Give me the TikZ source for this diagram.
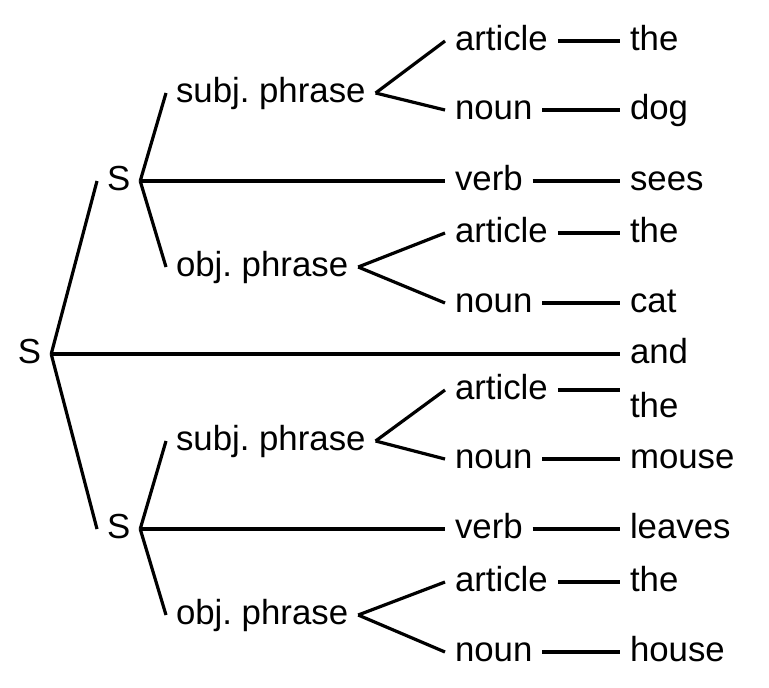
\documentclass[tikz,border=0pt]{standalone}
\usepackage{fontspec}
\setmainfont{Liberation Sans}

\begin{document}
\fontsize{17.4}{20}\selectfont\frenchspacing
\begin{tikzpicture}[x=0.5pt, y=-0.5pt, line width=1.6pt, word/.style = {anchor=mid west, inner xsep=5pt, inner ysep=2pt, outer sep=0pt}]
\useasboundingbox (0,0) rectangle (769,687);

\node[word] (s) at (8,354) {S};
\node[word] (s1) at (97,181) {S};
\node[word] (s2) at (97,529) {S};

\node[word] (sp1) at (166,93) {subj. phrase};
\node[word] (op1) at (166,267) {obj. phrase};
\node[word] (sp2) at (166,441) {subj. phrase};
\node[word] (op2) at (166,615) {obj. phrase};

\node[word] (a1) at (445,41) {article};
\node[word] (n1) at (445,110) {noun};
\node[word] (v1) at (445,181) {verb};
\node[word] (a2) at (445,233) {article};
\node[word] (n2) at (445,303) {noun};
\node[word] (a3) at (445,390) {article};
\node[word] (n3) at (445,459) {noun};
\node[word] (v2) at (445,529) {verb};
\node[word] (a4) at (445,582) {article};
\node[word] (n4) at (445,652) {noun};

\node[word] (w1) at (620,41) {the};
\node[word] (w2) at (620,110) {dog};
\node[word] (w3) at (620,181) {sees};
\node[word] (w4) at (620,233) {the};
\node[word] (w5) at (620,303) {cat};
\node[word] (w6) at (620,354) {and};
\node[word] (w7) at (620,408) {the};
\node[word] (w8) at (620,459) {mouse};
\node[word] (w9) at (620,529) {leaves};
\node[word] (w10) at (620,582) {the};
\node[word] (w11) at (620,652) {house};

% sentence level
\draw (s.mid east) -- (s1.mid west);
\draw (s.mid east) -- (w6.mid west);
\draw (s.mid east) -- (s2.mid west);

% first clause
\draw (s1.mid east) -- (sp1.mid west);
\draw (s1.mid east) -- (v1.mid west);
\draw (s1.mid east) -- (op1.mid west);
\draw (sp1.mid east) -- (a1.mid west);
\draw (sp1.mid east) -- (n1.mid west);
\draw (op1.mid east) -- (a2.mid west);
\draw (op1.mid east) -- (n2.mid west);

% second clause
\draw (s2.mid east) -- (sp2.mid west);
\draw (s2.mid east) -- (v2.mid west);
\draw (s2.mid east) -- (op2.mid west);
\draw (sp2.mid east) -- (a3.mid west);
\draw (sp2.mid east) -- (n3.mid west);
\draw (op2.mid east) -- (a4.mid west);
\draw (op2.mid east) -- (n4.mid west);

% words
\draw (a1.mid east) -- (w1.mid west);
\draw (n1.mid east) -- (w2.mid west);
\draw (v1.mid east) -- (w3.mid west);
\draw (a2.mid east) -- (w4.mid west);
\draw (n2.mid east) -- (w5.mid west);
\draw (a3.mid east) -- (a3.mid east -| w7.mid west);
\draw (n3.mid east) -- (w8.mid west);
\draw (v2.mid east) -- (w9.mid west);
\draw (a4.mid east) -- (w10.mid west);
\draw (n4.mid east) -- (w11.mid west);
\end{tikzpicture}
\end{document}
